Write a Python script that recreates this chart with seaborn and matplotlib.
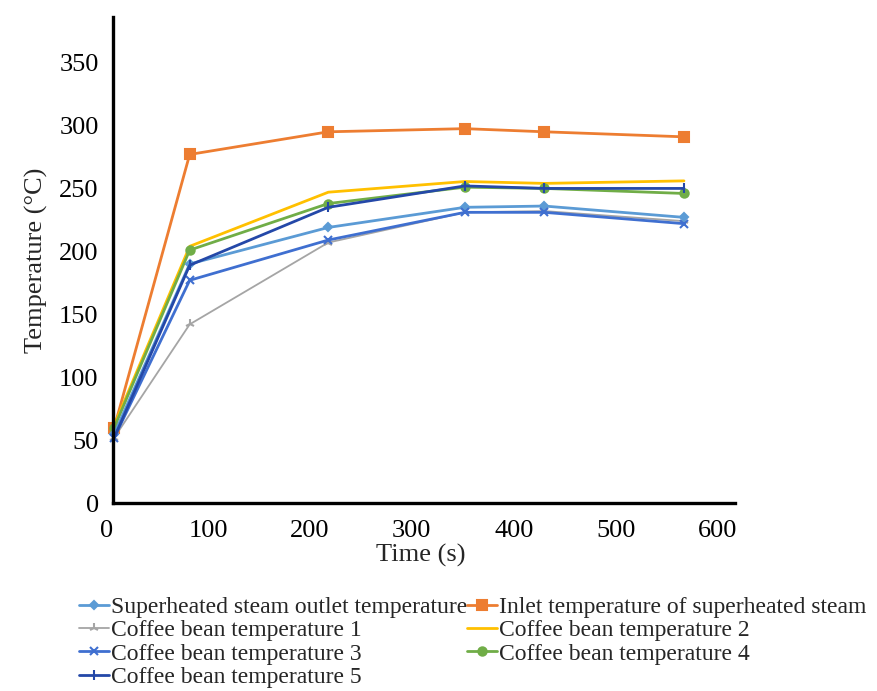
import matplotlib
matplotlib.use("Agg")
import matplotlib.pyplot as plt
import seaborn as sns
import pandas as pd

time_s = [8, 82, 218, 352, 430, 567]
outlet = [55, 190, 219, 235, 236, 227]
inlet = [60, 277, 295, 297.5, 295, 291]
cb1 = [52, 142, 207, 231, 232, 224]
cb2 = [62, 204, 247, 255.5, 254, 256]
cb3 = [52, 177, 209, 231, 231, 222]
cb4 = [60, 201, 238, 251, 250, 246]
cb5 = [52, 189, 235, 252, 250, 250]

names = ["Superheated steam outlet temperature", "Coffee bean temperature 1",
         "Coffee bean temperature 3", "Coffee bean temperature 5",
         "Inlet temperature of superheated steam", "Coffee bean temperature 2",
         "Coffee bean temperature 4"]
series = [outlet, cb1, cb3, cb5, inlet, cb2, cb4]
colors = ["#5B9BD5", "#A5A5A5", "#3F6FD0", "#2448A8", "#ED7D31", "#FFC000", "#70AD47"]
markers = ["D", "2", "x", "|", "s", None, "o"]
msizes = [4, 7, 6, 7, 7, 0, 6]
draw_order = [1, 4, 5, 6, 0, 2, 3]

sns.set_style("white")
plt.rcParams['font.family'] = ['Liberation Serif', 'DejaVu Serif']

fig = plt.figure(figsize=(8.77, 6.91), dpi=100)
ax = fig.add_axes([0.121, 0.272, 0.717, 0.703])

rows = []
for n, s in zip(names, series):
    for t, v in zip(time_s, s):
        rows.append({"Time": t, "Temp": v, "Series": n})
df = pd.DataFrame(rows)

handles = {}
for i in draw_order:
    n = names[i]
    sub = df[df["Series"] == n]
    sns.lineplot(data=sub, x="Time", y="Temp", ax=ax, color=colors[i],
                 marker=markers[i] if markers[i] else None, markersize=msizes[i],
                 markeredgewidth=1.5, markeredgecolor=colors[i],
                 linewidth=2.0 if i != 1 else 1.3, label=n, legend=False)
    handles[n] = ax.lines[-1]

ax.set_xlim(0, 617)
ax.set_ylim(0, 386)
ax.set_xticks(range(0, 601, 100))
ax.set_yticks(range(0, 351, 50))
ax.spines['left'].set_position(('data', 7))
ax.spines['bottom'].set_bounds(7, 617)
for s in ['top', 'right']:
    ax.spines[s].set_visible(False)
for s in ['left', 'bottom']:
    ax.spines[s].set_linewidth(2.4)
    ax.spines[s].set_color('black')
ax.tick_params(axis='both', labelsize=19, length=3, width=0.6, direction='inout', colors='black')
ax.tick_params(axis='x', pad=11)
ax.tick_params(axis='y', pad=9)
ax.set_xlabel("Time (s)", fontsize=19, labelpad=1)
ax.set_ylabel("Temperature (°C)", fontsize=19, labelpad=8)

fig.legend([handles[n] for n in names], names, ncol=2, frameon=False,
           loc='upper left', bbox_to_anchor=(0.077, 0.154), fontsize=17,
           handlelength=1.25, handletextpad=0.1, columnspacing=0.0,
           labelspacing=0.08, borderpad=0)

fig.savefig("out.png", dpi=100)
